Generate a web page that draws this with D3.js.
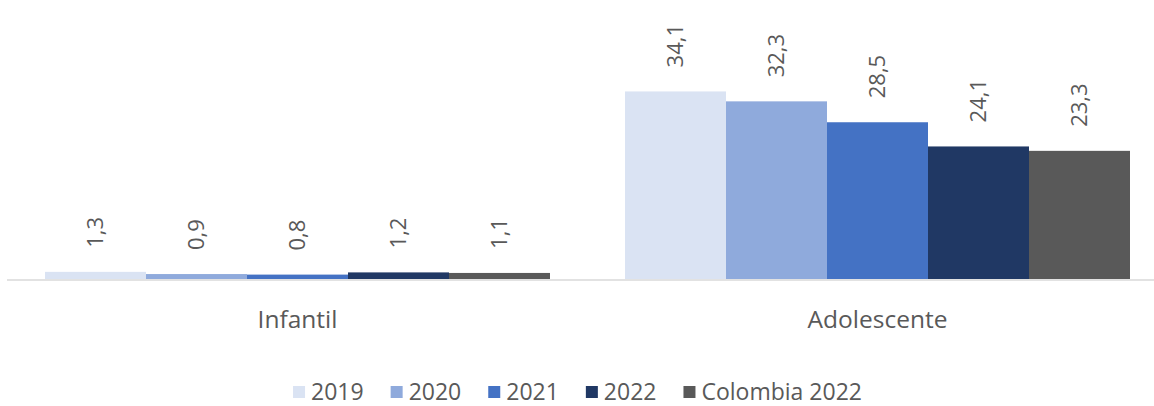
<!DOCTYPE html>
<html>
<head>
<meta charset="utf-8">
<script src="https://cdnjs.cloudflare.com/ajax/libs/d3/7.8.5/d3.min.js"></script>
<style>
  html, body { margin: 0; padding: 0; background: #ffffff; }
  svg { display: block; }
  text { font-family: "Open Sans", "Noto Sans", sans-serif; fill: #595959; }
</style>
</head>
<body>
<svg id="chart" width="1154" height="406"></svg>
<script>
const categories = ["Infantil", "Adolescente"];
const seriesNames = ["2019", "2020", "2021", "2022", "Colombia 2022"];
const values2019 = [1.3, 34.1];
const values2020 = [0.9, 32.3];
const values2021 = [0.8, 28.5];
const values2022 = [1.2, 24.1];
const valuesColombia2022 = [1.1, 23.3];
const colors = ["#dae3f3", "#8faadc", "#4472c4", "#203864", "#595959"];

const seriesValues = [values2019, values2020, values2021, values2022, valuesColombia2022];

const svg = d3.select("#chart");
const W = 1154, H = 406;
const baseY = 279;

const x0 = d3.scaleBand()
  .domain(categories)
  .range([7.5, 1167.5])
  .paddingInner(75 / 580)
  .paddingOuter(37.5 / 580);

const x1 = d3.scaleBand()
  .domain(seriesNames)
  .range([0, x0.bandwidth()])
  .padding(0);

const y = d3.scaleLinear().domain([0, 40]).range([baseY, baseY - 220]);

const fmt = v => d3.format(".1f")(v).replace(".", ",");

// bars
const groups = svg.append("g").selectAll("g")
  .data(categories)
  .join("g")
  .attr("transform", d => `translate(${x0(d)},0)`);

groups.selectAll("rect")
  .data((c, ci) => seriesNames.map((s, si) => ({ s, si, v: seriesValues[si][ci] })))
  .join("rect")
  .attr("x", d => x1(d.s))
  .attr("y", d => y(d.v))
  .attr("width", x1.bandwidth())
  .attr("height", d => baseY - y(d.v))
  .attr("fill", d => colors[d.si]);

// value labels (rotated)
groups.selectAll("text.val")
  .data((c, ci) => seriesNames.map((s, si) => ({ s, si, v: seriesValues[si][ci] })))
  .join("text")
  .attr("class", "val")
  .attr("transform", d => `translate(${x1(d.s) + x1.bandwidth() / 2},${y(d.v) - 24}) rotate(-90)`)
  .attr("dy", "0.35em")
  .attr("text-anchor", "start")
  .style("font-size", "22px")
  .text(d => fmt(d.v));

// axis line
svg.append("line")
  .attr("x1", 7).attr("x2", W)
  .attr("y1", baseY + 1).attr("y2", baseY + 1)
  .attr("stroke", "#d9d9d9")
  .attr("stroke-width", 1.5);

// category labels
svg.append("g").selectAll("text")
  .data(categories)
  .join("text")
  .attr("x", d => x0(d) + x0.bandwidth() / 2)
  .attr("y", 328)
  .attr("text-anchor", "middle")
  .style("font-size", "24.5px")
  .text(d => d);

// legend
const legend = svg.append("g");
const items = legend.selectAll("g")
  .data(seriesNames)
  .join("g");
items.append("rect")
  .attr("width", 12).attr("height", 12)
  .attr("y", 386)
  .attr("fill", (d, i) => colors[i]);
items.append("text")
  .attr("x", 18)
  .attr("y", 400)
  .style("font-size", "23px")
  .text(d => d);
const widths = [];
items.each(function () {
  const w = d3.select(this).select("text").node().getComputedTextLength();
  widths.push(18 + w);
});
const gap = 27;
const total = d3.sum(widths) + gap * (widths.length - 1);
let start = 577.5 - total / 2;
items.attr("transform", (d, i) => {
  const t = `translate(${start},0)`;
  start += widths[i] + gap;
  return t;
});
</script>
</body>
</html>
